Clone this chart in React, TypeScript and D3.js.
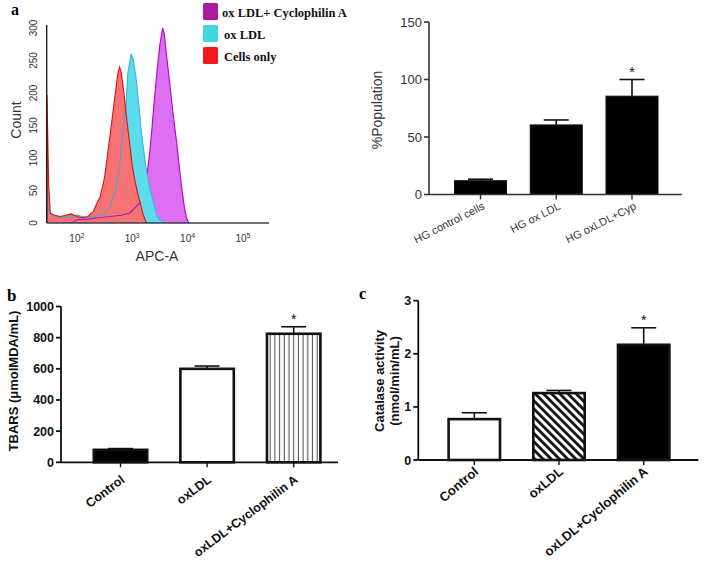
import React from "react";
import * as d3 from "d3";

// ---------- Panel a (histogram) data: log10(APC-A) positions and counts ----------
const redX = [1.455, 1.46, 1.49, 1.52, 1.6, 1.7, 1.8, 1.9, 2.0, 2.1, 2.2, 2.3, 2.36, 2.42, 2.5, 2.6, 2.68, 2.74, 2.77, 2.8, 2.85, 2.9, 2.95, 3.0, 3.06, 3.13, 3.2, 3.26];
const redY = [0, 197, 60, 15, 12, 10, 12, 14, 10, 8, 10, 18, 30, 40, 70, 135, 190, 230, 240, 232, 200, 160, 125, 88, 60, 35, 12, 0];
const cyanX = [1.455, 1.46, 1.5, 1.6, 1.7, 1.8, 1.9, 2.0, 2.1, 2.2, 2.3, 2.4, 2.5, 2.6, 2.7, 2.78, 2.83, 2.88, 2.92, 2.98, 3.02, 3.07, 3.12, 3.16, 3.24, 3.3, 3.35, 3.42, 3.46, 3.55, 3.6];
const cyanY = [0, 50, 15, 10, 8, 10, 8, 12, 10, 8, 10, 12, 14, 25, 50, 95, 140, 172, 230, 260, 250, 222, 180, 143, 90, 60, 43, 18, 8, 2, 0];
const magX = [1.9, 2.0, 2.2, 2.4, 2.6, 2.8, 2.95, 3.07, 3.15, 3.2, 3.27, 3.32, 3.36, 3.4, 3.45, 3.5, 3.55, 3.58, 3.61, 3.67, 3.73, 3.8, 3.85, 3.9, 3.94, 3.98, 4.02];
const magY = [0, 5, 6, 8, 10, 12, 15, 25, 33, 40, 75, 112, 150, 190, 235, 275, 300, 290, 265, 220, 173, 125, 86, 50, 25, 8, 0];
const histYTicks = [0, 50, 100, 150, 200, 250, 300];
const histXTicks = [2, 3, 4, 5];
const legendLabels = ["ox LDL+ Cyclophilin A", "ox LDL", "Cells only"];

// ---------- Panel a (bar chart) ----------
const popCats = ["HG control cells", "HG ox LDL", "HG oxLDL+Cyp"];
const popVals = [12, 60.5, 85.5];
const popErr = [1.3, 4.3, 14.5];
const popTicks = [0, 50, 100, 150];

// ---------- Panel b ----------
const tbarsCats = ["Control", "oxLDL", "oxLDL+Cyclophilin A"];
const tbarsVals = [80, 600, 825];
const tbarsErr = [8, 18, 45];
const tbarsTicks = [0, 200, 400, 600, 800, 1000];

// ---------- Panel c ----------
const catCats = ["Control", "oxLDL", "oxLDL+Cyclophilin A"];
const catVals = [0.77, 1.26, 2.17];
const catErr = [0.12, 0.05, 0.32];
const catTicks = [0, 1, 2, 3];

const SANS = "'Liberation Sans', Arial, sans-serif";
const SERIF = "'Liberation Serif', 'Times New Roman', serif";

function Histogram() {
  const x = d3.scaleLog().domain([Math.pow(10, 1.455), Math.pow(10, 5.47)]).range([46.7, 269]);
  const y = d3.scaleLinear().domain([0, 300]).range([223, 28]);
  const mk = (xs: number[], ys: number[]) => {
    const pts = xs.map((v, i) => [Math.pow(10, v), ys[i]] as [number, number]);
    const area = d3.area<[number, number]>().x(d => x(d[0])).y0(y(0)).y1(d => y(d[1]))(pts) || "";
    const line = d3.line<[number, number]>().x(d => x(d[0])).y(d => y(d[1]))(pts) || "";
    return { area, line };
  };
  const mag = mk(magX, magY);
  const cy = mk(cyanX, cyanY);
  const red = mk(redX, redY);
  const legendColors = ["#ad1aa0", "#42d6e2", "#f01818"];
  return (
    <g>
      <defs>
        <clipPath id="redClip"><path d={red.area} /></clipPath>
      </defs>
      <path d={mag.area} fill="#dc6ff2" />
      <path d={mag.line} fill="none" stroke="#b80cc8" strokeWidth={1.2} />
      <path d={cy.area} fill="#5ddcec" />
      <path d={cy.line} fill="none" stroke="#40b4d8" strokeWidth={1.2} />
      <path d={red.area} fill="#f77272" />
      <g clipPath="url(#redClip)">
        <path d={mag.line} fill="none" stroke="#a020c0" strokeWidth={1.1} />
        <path d={cy.line} fill="none" stroke="#7f93b0" strokeWidth={1.5} />
      </g>
      <path d={red.line} fill="none" stroke="#dd1010" strokeWidth={1.1} />
      <line x1={46.7} x2={46.7} y1={25} y2={223} stroke="#111" strokeWidth={1.3} />
      <line x1={46.7} x2={269} y1={223} y2={223} stroke="#3a3f55" strokeWidth={1.3} />
      {histYTicks.map(t => (
        <text key={t} transform={`translate(37,${y(t)}) rotate(-90)`} textAnchor="middle" fontFamily={SANS} fontSize={10} fill="#333">{t}</text>
      ))}
      {histXTicks.map(t => (
        <text key={t} x={x(Math.pow(10, t))} y={242} textAnchor="middle" fontFamily={SANS} fontSize={10} fill="#333">
          10<tspan dy={-4} fontSize={7}>{t}</tspan>
        </text>
      ))}
      <text x={157} y={261} textAnchor="middle" fontFamily={SANS} fontSize={14} fill="#333">APC-A</text>
      <text transform="translate(21,120) rotate(-90)" textAnchor="middle" fontFamily={SANS} fontSize={14} fill="#333">Count</text>
      <text x={11} y={15} fontFamily={SERIF} fontWeight="bold" fontSize={16}>a</text>
      {legendLabels.map((l, i) => (
        <g key={l}>
          <rect x={203} y={3 + i * 22} width={15} height={17} rx={1.5} fill={legendColors[i]} />
          <text x={i === 0 ? 222 : 224} y={16.5 + i * 22} fontFamily={SERIF} fontWeight="bold" fontSize={12.5} fill="#111">{l}</text>
        </g>
      ))}
    </g>
  );
}

type BarProps = {
  cats: string[]; vals: number[]; errs: number[]; ticks: number[];
  yDomain: [number, number]; yRange: [number, number];
  bandRange: [number, number]; pad: number;
  axisX: number; axisEnd: number;
  fills: string[]; bold: boolean; labelAngle: number; labelSize: number; tickSize: number;
  strokeW: number; star: number; axisColor: string; textColor: string; axisW: number;
  labelDx: number; labelDy: number;
};

function BarPanel(p: BarProps) {
  const y = d3.scaleLinear().domain(p.yDomain).range(p.yRange);
  const x = d3.scaleBand<string>().domain(p.cats).range(p.bandRange).paddingInner(p.pad).paddingOuter(0);
  const bw = x.bandwidth();
  const base = y(0);
  const fw = p.bold ? "bold" : "normal";
  return (
    <g>
      {p.cats.map((c, i) => {
        const x0 = x(c)!;
        const cx = x0 + bw / 2;
        const top = y(p.vals[i]);
        const cap = y(p.vals[i] + p.errs[i]);
        return (
          <g key={c}>
            <line x1={cx} x2={cx} y1={top} y2={cap} stroke="#111" strokeWidth={1.6} />
            <line x1={cx - 12.5} x2={cx + 12.5} y1={cap} y2={cap} stroke="#111" strokeWidth={1.6} />
            <rect x={x0 + p.strokeW / 2} y={top} width={bw - p.strokeW} height={base - top}
              fill={p.fills[i]} stroke="#111" strokeWidth={p.strokeW} />
            <line x1={cx} x2={cx} y1={base} y2={base + 5} stroke={p.axisColor} strokeWidth={1.4} />
            <text transform={`translate(${cx + p.labelDx},${base + p.labelDy}) rotate(${p.labelAngle})`} textAnchor="end"
              fontFamily={SANS} fontWeight={fw} fontSize={p.labelSize} fill={p.textColor}>{c}</text>
          </g>
        );
      })}
      <line x1={p.axisX} x2={p.axisX} y1={y(p.yDomain[1])} y2={base} stroke={p.axisColor} strokeWidth={p.axisW} />
      <line x1={p.axisX} x2={p.axisEnd} y1={base} y2={base} stroke={p.axisColor} strokeWidth={p.axisW} />
      {p.ticks.map(t => (
        <g key={t}>
          <line x1={p.axisX - 5} x2={p.axisX} y1={y(t)} y2={y(t)} stroke={p.axisColor} strokeWidth={p.axisW} />
          <text x={p.axisX - 7} y={y(t) + 4.5} textAnchor="end" fontFamily={SANS} fontWeight={fw} fontSize={p.tickSize} fill={p.textColor}>{t}</text>
        </g>
      ))}
      {(() => {
        const c = p.cats[p.star];
        const cx = x(c)! + bw / 2;
        const cap = y(p.vals[p.star] + p.errs[p.star]);
        return <text x={cx} y={cap - 3} textAnchor="middle" fontFamily={SANS} fontSize={14} fill="#111">*</text>;
      })()}
    </g>
  );
}

export default function App() {
  return (
    <svg width={705} height={562} style={{ display: "block", position: "absolute", left: 0, top: 0, background: "#fff" }}>
      <defs>
        <pattern id="vstripe" patternUnits="userSpaceOnUse" width={4.7} height={10}>
          <rect width={4.7} height={10} fill="#fff" />
          <line x1={2.3} x2={2.3} y1={0} y2={10} stroke="#555" strokeWidth={1.1} />
        </pattern>
        <pattern id="diag" patternUnits="userSpaceOnUse" width={5.8} height={10} patternTransform="rotate(-45)">
          <rect width={5.8} height={10} fill="#fff" />
          <rect x={0} y={0} width={2.8} height={10} fill="#111" />
        </pattern>
      </defs>
      <rect width={705} height={562} fill="#fff" />
      <Histogram />
      <BarPanel cats={popCats} vals={popVals} errs={popErr} ticks={popTicks}
        yDomain={[0, 150]} yRange={[194.5, 22]} bandRange={[454, 658.5]} pad={0.3}
        axisX={429} axisEnd={681.7} fills={["#000", "#000", "#000"]} bold={false}
        labelAngle={-27} labelSize={11} tickSize={13} strokeW={1} star={2}
        axisColor="#333" textColor="#333" axisW={1.6} labelDx={5} labelDy={14} />
      <text transform="translate(382,110) rotate(-90)" textAnchor="middle" fontFamily={SANS} fontSize={14} fill="#333">%Population</text>

      <BarPanel cats={tbarsCats} vals={tbarsVals} errs={tbarsErr} ticks={tbarsTicks}
        yDomain={[0, 1000]} yRange={[462.3, 306.5]} bandRange={[92.5, 321.7]} pad={0.353}
        axisX={61} axisEnd={338} fills={["#000", "#fff", "url(#vstripe)"]} bold={true}
        labelAngle={-37} labelSize={12.6} tickSize={12.5} strokeW={2.6} star={2}
        axisColor="#111" textColor="#111" axisW={1.8} labelDx={5} labelDy={19} />
      <text transform="translate(18,381) rotate(-90)" textAnchor="middle" fontFamily={SANS} fontWeight="bold" fontSize={13} fill="#111">TBARS (μmolMDA/mL)</text>
      <text x={7} y={301} fontFamily={SERIF} fontWeight="bold" fontSize={17}>b</text>

      <BarPanel cats={catCats} vals={catVals} errs={catErr} ticks={catTicks}
        yDomain={[0, 3]} yRange={[460, 300.7]} bandRange={[447.3, 670.7]} pad={0.3625}
        axisX={418.3} axisEnd={698.3} fills={["#fff", "url(#diag)", "#000"]} bold={true}
        labelAngle={-40} labelSize={13} tickSize={12.5} strokeW={2.6} star={2}
        axisColor="#111" textColor="#111" axisW={1.8} labelDx={5} labelDy={13} />
      <text transform="translate(384,381) rotate(-90)" textAnchor="middle" fontFamily={SANS} fontWeight="bold" fontSize={13} fill="#111">Catalase activity</text>
      <text transform="translate(399,381) rotate(-90)" textAnchor="middle" fontFamily={SANS} fontWeight="bold" fontSize={13} fill="#111">(nmol/min/mL)</text>
      <text x={359} y={299} fontFamily={SERIF} fontWeight="bold" fontSize={16}>c</text>
    </svg>
  );
}
